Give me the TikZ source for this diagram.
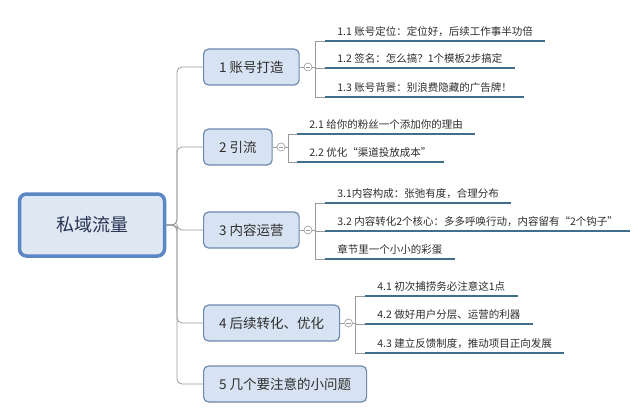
\documentclass[tikz,border=0pt]{standalone}
\usepackage{fontspec}
\newfontfamily\cjk{Noto Sans CJK SC}
\usetikzlibrary{positioning}
\definecolor{rootfill}{HTML}{DFE7F3}
\definecolor{rootline}{HTML}{5A86C4}
\definecolor{branchfill}{HTML}{D7E3F2}
\definecolor{branchline}{HTML}{6D89AD}
\definecolor{linegray}{HTML}{9A9A9A}
\definecolor{uline}{HTML}{3F6F8A}
\definecolor{textgray}{HTML}{2E2E2E}
\definecolor{roottext}{HTML}{283352}

\begin{document}
\begin{tikzpicture}[x=1pt, y=-1pt, thick,
    root node/.style={rectangle, rounded corners=7pt, draw=rootline, line width=3.5pt, fill=rootfill, minimum width=145pt, minimum height=62pt, font=\cjk\fontsize{18}{22}\selectfont, text=roottext},
    branch node/.style={rectangle, rounded corners=5pt, draw=branchline, line width=1.2pt, fill=branchfill, anchor=west, minimum height=36pt, inner xsep=15.5pt, font=\cjk\fontsize{13.5}{16}\selectfont, text=textgray},
    leaf node/.style={anchor=south west, inner xsep=12pt, inner ysep=4pt, font=\cjk\fontsize{10.5}{12}\selectfont, text=textgray},
    fold node/.style={circle, draw=linegray, fill=white, line width=.6pt, minimum size=8pt, inner sep=0pt,
        path picture={\draw[linegray, line width=.6pt] ([xshift=1.8pt]path picture bounding box.west) -- ([xshift=-1.8pt]path picture bounding box.east);}},
    spine/.style={draw=linegray, line width=.8pt, rounded corners=5pt},
    bracket/.style={draw=linegray, line width=.8pt},
    underline/.style={draw=uline, line width=2.6pt}]
\useasboundingbox[fill=white] (0,0) rectangle (640,420);

\node[root node] (root) at (92,225) {私域流量};

\node[branch node] (b1) at (203,67) {1 账号打造};
\node[branch node] (b2) at (203,147) {2 引流};
\node[branch node] (b3) at (203,230) {3 内容运营};
\node[branch node] (b4) at (203,323) {4 后续转化、优化};
\node[branch node] (b5) at (203,384) {5 几个要注意的小问题};

\coordinate (spine) at (177,225);
\foreach \b in {b1,b2,b3,b4,b5}
    \draw[spine] (root.east) -- (spine) |- (\b.west);

% fold marks
\foreach \b in {b1,b2,b3,b4}{
    \node[fold node, right=4pt of \b] (f\b) {};
    \draw[bracket] (\b.east) -- (f\b);
}

\node[leaf node] (l11) at (325,41) {1.1 账号定位：定位好，后续工作事半功倍};
\node[leaf node] (l12) at (325,68) {1.2 签名：怎么搞？1个模板2步搞定};
\node[leaf node] (l13) at (325,97) {1.3 账号背景：别浪费隐藏的广告牌！};
\node[leaf node] (l21) at (297,134) {2.1 给你的粉丝一个添加你的理由};
\node[leaf node] (l22) at (297,162) {2.2 优化“渠道投放成本”};
\node[leaf node] (l31) at (325,203) {3.1内容构成：张弛有度，合理分布};
\node[leaf node] (l32) at (325,231) {3.2 内容转化2个核心：多多呼唤行动，内容留有“2个钩子”};
\node[leaf node] (l33) at (325,259) {章节里一个小小的彩蛋};
\node[leaf node] (l41) at (365,296) {4.1 初次捕捞务必注意这1点};
\node[leaf node] (l42) at (365,324) {4.2 做好用户分层、运营的利器};
\node[leaf node] (l43) at (365,353) {4.3 建立反馈制度，推动项目正向发展};

\foreach \f/\l in {fb1/l11,fb1/l12,fb1/l13,fb2/l21,fb2/l22,fb3/l31,fb3/l32,fb3/l33,fb4/l41,fb4/l42,fb4/l43}{
    \draw[bracket] (\f.east) -- ++(3,0) |- (\l.south west);
    \draw[underline] (\l.south west) -- (\l.south east);
}
\end{tikzpicture}
\end{document}
